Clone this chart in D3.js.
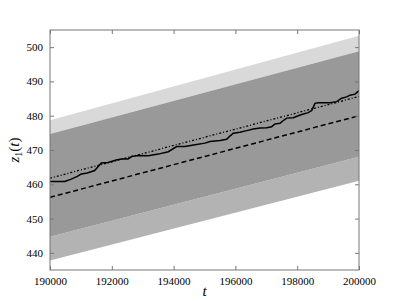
<!DOCTYPE html>
<html>
<head>
<meta charset="utf-8">
<script src="https://cdn.jsdelivr.net/npm/d3@7"></script>
<style>
  body { margin: 0; background: #fff; }
  svg text { font-family: "Liberation Serif", "DejaVu Serif", serif !important; }
</style>
</head>
<body>
<svg class="chart"></svg>
<script>
// band edges at the two ends of the range
var bandT = [190000, 200000];
var outerUpper = [478.7, 503.3];
var innerUpper = [474.7, 498.8];
var innerLower = [444.7, 468.0];
var outerLower = [437.8, 461.0];

// straight reference lines
var dashedZ = [456.2, 480.0];
var dashDotZ = [461.8, 485.6];

// the sample path
var pathT = [190000, 190476, 190689, 190883, 191013, 191207, 191446, 191660, 191877, 192145,
  192307, 192524, 192644, 192857, 193181, 193505, 193828, 194100, 194369, 194692,
  195016, 195178, 195501, 195718, 195802, 195932, 196148, 196365, 196579, 196796,
  197013, 197174, 197281, 197443, 197550, 197660, 197873, 198035, 198197, 198359,
  198469, 198575, 198682, 199061, 199278, 199439, 199601, 199709, 199870, 200000];
var pathZ = [460.8, 460.8, 461.5, 462.3, 463.0, 463.3, 464.0, 466.2, 466.35, 467.1,
  467.4, 467.4, 468.1, 468.4, 468.3, 468.8, 469.5, 471.0, 471.0, 471.5,
  472.0, 472.45, 472.75, 473.15, 473.9, 474.9, 475.2, 475.65, 476.1, 476.4,
  476.5, 476.8, 477.6, 477.8, 478.6, 479.3, 479.4, 480.0, 480.5, 480.9,
  481.5, 483.6, 483.8, 483.8, 484.1, 485.1, 485.5, 486.0, 486.3, 487.3];

var xTicks = [190000, 192000, 194000, 196000, 198000, 200000];
var yTicks = [440, 450, 460, 470, 480, 490, 500];

var margin = {top: 30, right: 40, bottom: 31, left: 50},
    width = 399 - margin.left - margin.right,
    height = 301 - margin.top - margin.bottom;

var x = d3.scaleLinear().domain([190000, 200000]).range([0, width]);
var y = d3.scaleLinear().domain([435, 505]).range([height, 0]);

var svg = d3.select(".chart")
    .attr("width", 399)
    .attr("height", 301);

var chart = svg.append("g")
    .attr("transform", "translate(" + margin.left + "," + margin.top + ")");

chart.append("clipPath").attr("id", "clip")
  .append("rect").attr("width", width).attr("height", height);

var plot = chart.append("g").attr("clip-path", "url(#clip)");

function band(lo, hi) {
  var pts = bandT.map(function(t, i) { return {t: t, lo: lo[i], hi: hi[i]}; });
  return d3.area()
      .x(function(d) { return x(d.t); })
      .y0(function(d) { return y(d.lo); })
      .y1(function(d) { return y(d.hi); })(pts);
}

plot.append("path").attr("d", band(innerUpper, outerUpper)).attr("fill", "#d9d9d9");
plot.append("path").attr("d", band(outerLower, innerLower)).attr("fill", "#b3b3b3");
plot.append("path").attr("d", band(innerLower, innerUpper)).attr("fill", "#999999");

var line = d3.line()
    .x(function(d) { return x(d[0]); })
    .y(function(d) { return y(d[1]); });

plot.append("path")
    .attr("d", line(d3.zip(bandT, dashedZ)))
    .attr("fill", "none").attr("stroke", "#000")
    .attr("stroke-width", 1.5).attr("stroke-dasharray", "5,3");

plot.append("path")
    .attr("d", line(d3.zip(bandT, dashDotZ)))
    .attr("fill", "none").attr("stroke", "#000")
    .attr("stroke-width", 1.3).attr("stroke-dasharray", "2,2,1,2");

plot.append("path")
    .attr("d", line(d3.zip(pathT, pathZ)))
    .attr("fill", "none").attr("stroke", "#000")
    .attr("stroke-width", 1.5);

// axes with inward ticks on all four sides
function styleAxis(g) {
  g.attr("font-family", "Liberation Serif").attr("font-size", 11);
  g.select(".domain").remove();
  g.selectAll(".tick line").attr("stroke", "#777");
  g.selectAll(".tick text").attr("fill", "#000");
}

chart.append("g")
    .attr("transform", "translate(0," + height + ")")
    .call(d3.axisBottom(x).tickValues(xTicks).tickFormat(d3.format("d"))
      .tickSizeInner(-4).tickSizeOuter(0).tickPadding(7))
    .call(styleAxis);

chart.append("g")
    .call(d3.axisTop(x).tickValues(xTicks).tickFormat("")
      .tickSizeInner(-4).tickSizeOuter(0))
    .call(styleAxis);

chart.append("g")
    .call(d3.axisLeft(y).tickValues(yTicks).tickFormat(d3.format("d"))
      .tickSizeInner(-4).tickSizeOuter(0).tickPadding(7))
    .call(styleAxis);

chart.append("g")
    .attr("transform", "translate(" + width + ",0)")
    .call(d3.axisRight(y).tickValues(yTicks).tickFormat("")
      .tickSizeInner(-4).tickSizeOuter(0))
    .call(styleAxis);

chart.append("rect")
    .attr("width", width).attr("height", height)
    .attr("fill", "none").attr("stroke", "#777").attr("stroke-width", 1);

// axis labels
chart.append("text")
    .attr("x", width / 2).attr("y", height + 26)
    .attr("text-anchor", "middle")
    .attr("font-size", "15px").attr("font-style", "italic")
    .text("t");

var yl = chart.append("text")
    .attr("transform", "translate(-31," + (height / 2) + ") rotate(-90)")
    .attr("text-anchor", "middle")
    .attr("font-size", "15px");
yl.append("tspan").attr("font-style", "italic").text("z");
yl.append("tspan").attr("font-size", "10px").attr("dy", 3).text("1");
yl.append("tspan").attr("dy", -3).text("(");
yl.append("tspan").attr("font-style", "italic").text("t");
yl.append("tspan").text(")");
</script>
</body>
</html>
